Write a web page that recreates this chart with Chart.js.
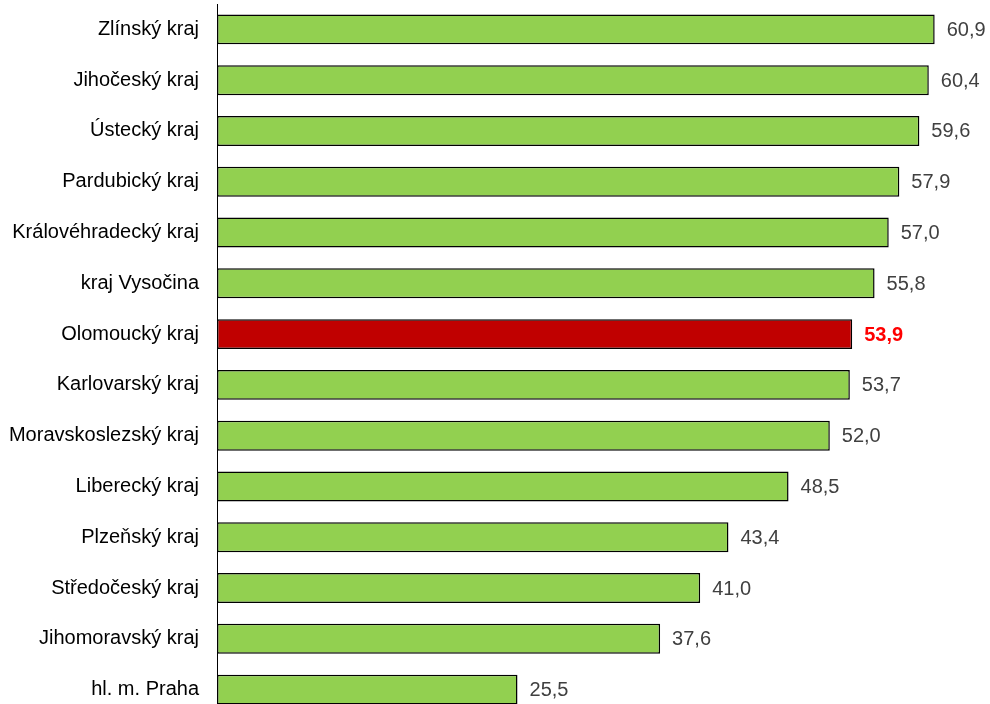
<!DOCTYPE html>
<html>
<head>
<meta charset="utf-8">
<script src="https://cdn.jsdelivr.net/npm/chart.js@4"></script>
<style>
  html, body { margin: 0; padding: 0; overflow: hidden; background: #fff; }
  #wrap { position: relative; width: 990px; height: 720px; }
</style>
</head>
<body>
<div id="wrap"><canvas id="myChart"></canvas></div>
<script>
const labels = [
  'Zlínský kraj',
  'Jihočeský kraj',
  'Ústecký kraj',
  'Pardubický kraj',
  'Královéhradecký kraj',
  'kraj Vysočina',
  'Olomoucký kraj',
  'Karlovarský kraj',
  'Moravskoslezský kraj',
  'Liberecký kraj',
  'Plzeňský kraj',
  'Středočeský kraj',
  'Jihomoravský kraj',
  'hl. m. Praha',
];
const values = [60.9, 60.4, 59.6, 57.9, 57.0, 55.8, 53.9, 53.7, 52.0, 48.5, 43.4, 41.0, 37.6, 25.5];
const highlight = 'Olomoucký kraj';

const FONT = '"Liberation Sans", Arial, sans-serif';
const ctx = document.getElementById('myChart').getContext('2d');

// value labels right of each bar
const valueLabels = {
  id: 'valueLabels',
  afterDatasetsDraw(chart) {
    const meta = chart.getDatasetMeta(0);
    const c = chart.ctx;
    c.save();
    c.textBaseline = 'middle';
    c.textAlign = 'left';
    meta.data.forEach((bar, i) => {
      const hl = labels[i] === highlight;
      c.fillStyle = hl ? '#FF0000' : '#404040';
      c.font = (hl ? 'bold ' : '') + '20px ' + FONT;
      c.fillText(values[i].toFixed(1).replace('.', ','), bar.x + 12, bar.y + 1);
    });
    c.restore();
  }
};

const myChart = new Chart(ctx, {
  type: 'bar',
  data: {
    labels,
    datasets: [{
      data: values,
      backgroundColor: labels.map(l => l === highlight ? '#C00000' : '#92D050'),
      borderColor: '#000',
      borderWidth: 1.5,
      borderSkipped: false,
      categoryPercentage: 1,
      barPercentage: 0.59,
    }],
  },
  options: {
    indexAxis: 'y',
    responsive: true,
    maintainAspectRatio: false,
    animation: false,
    layout: { padding: { top: 4, bottom: 5, right: 7, left: 0 } },
    plugins: { legend: { display: false }, tooltip: { enabled: false } },
    scales: {
      x: { display: false, min: 0, max: 65 },
      y: {
        afterFit(scale) {
          scale.width = 217;
          scale.paddingTop = 0;
          scale.paddingBottom = 0;
        },
        grid: { display: false, drawTicks: false },
        border: { display: true, color: '#000', width: 1 },
        ticks: {
          padding: 18,
          color: '#000',
          font: { family: FONT, size: 20 },
        },
      },
    },
  },
  plugins: [valueLabels],
});
</script>
</body>
</html>
